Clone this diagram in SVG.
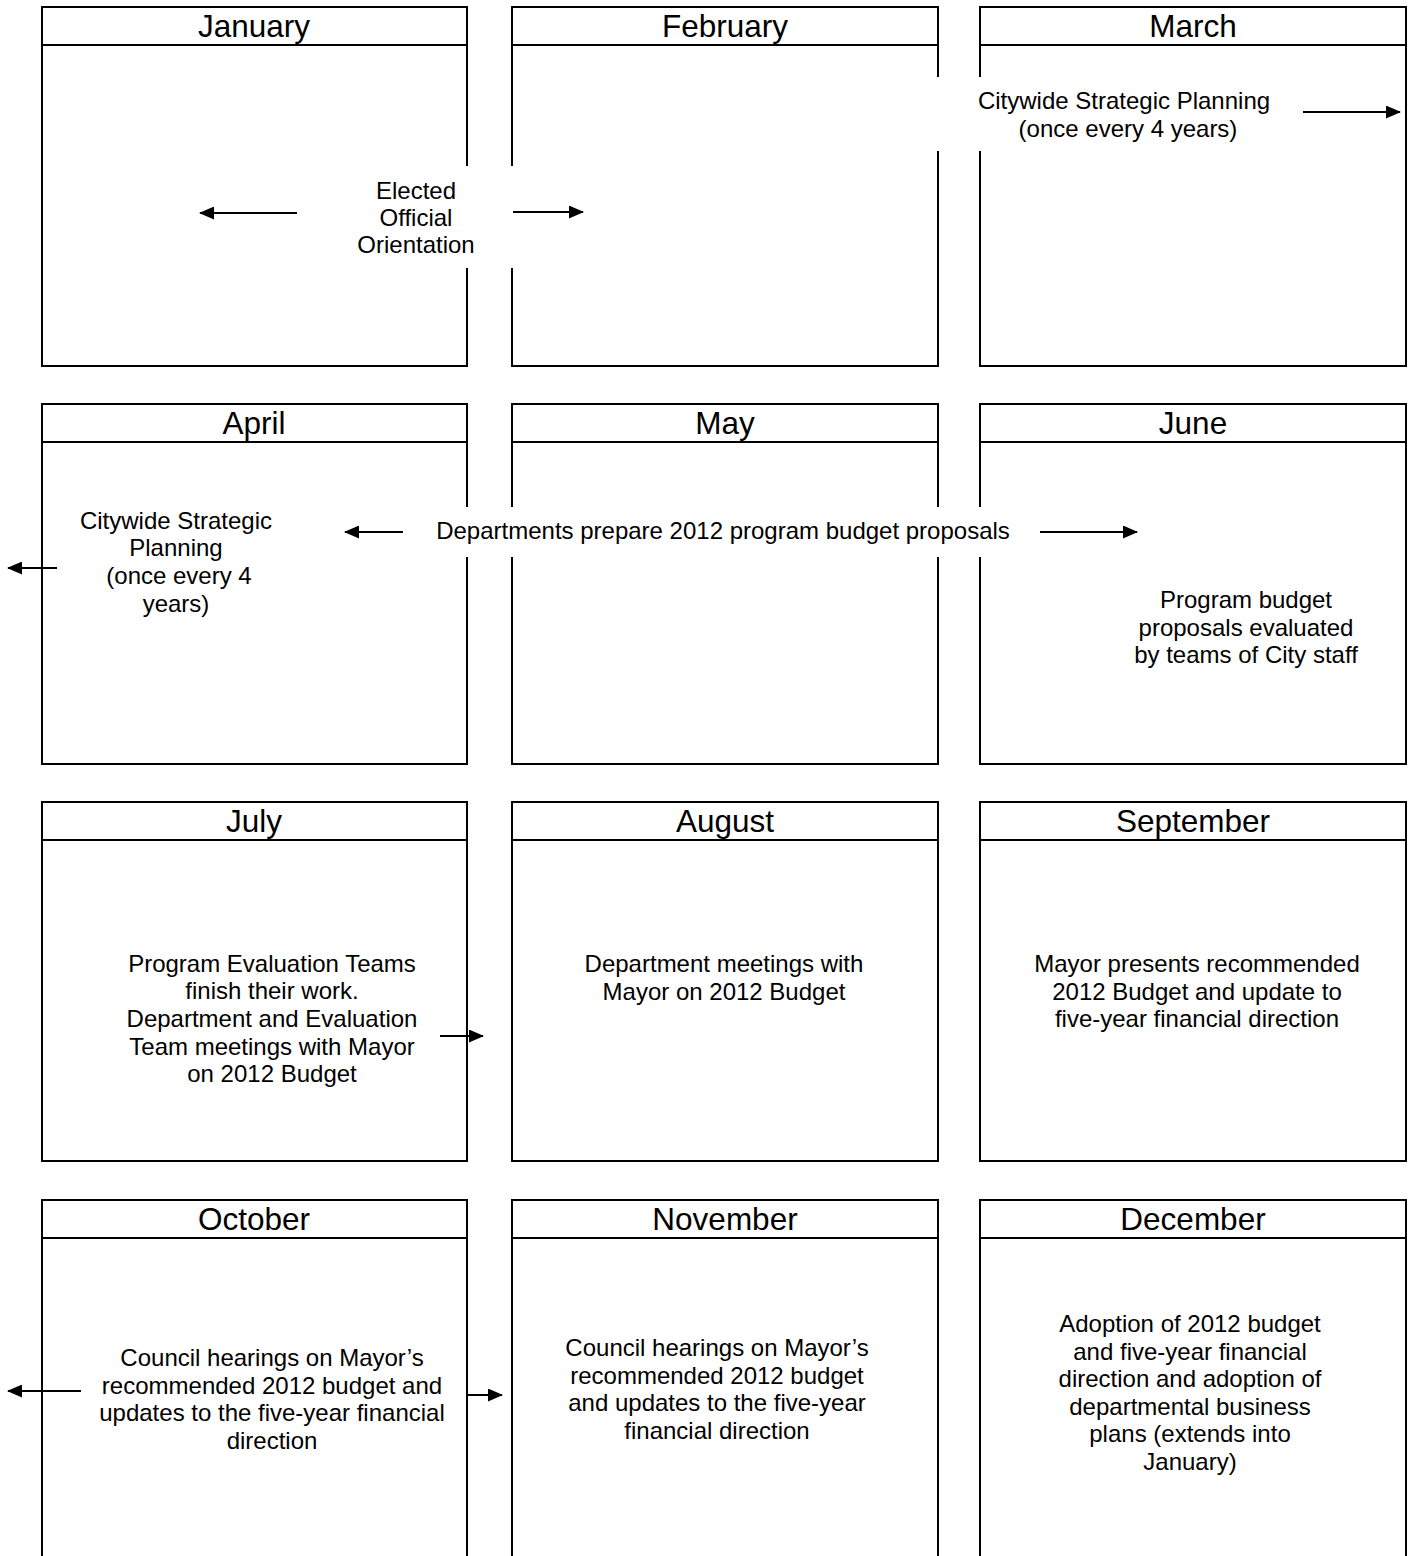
<svg xmlns="http://www.w3.org/2000/svg" width="1414" height="1556" viewBox="0 0 1414 1556">
<defs>
<marker id="ah" markerUnits="userSpaceOnUse" markerWidth="15" markerHeight="13" refX="14" refY="6.5" orient="auto">
<path d="M0,0 L15,6.5 L0,13 z" fill="#000"/>
</marker>
<style>
.box{fill:#fff;stroke:#000;stroke-width:2}
.hd{stroke:#000;stroke-width:2}
.mt{font-family:"Liberation Sans",Arial,sans-serif;font-size:31.5px;text-anchor:middle;fill:#000}
.t{font-family:"Liberation Sans",Arial,sans-serif;font-size:24px;text-anchor:middle;fill:#000}
.gap{fill:#fff;stroke:none}
.c{stroke:#000;stroke-width:2;fill:none;marker-end:url(#ah)}
</style>
</defs>
<rect width="1414" height="1556" fill="#fff"/>
<g id="january"><rect class="box" x="42" y="7" width="425" height="359"/><line class="hd" x1="42" y1="45" x2="467" y2="45"/><text class="mt" x="254" y="37">January</text></g>
<g id="february"><rect class="box" x="512" y="7" width="426" height="359"/><line class="hd" x1="512" y1="45" x2="938" y2="45"/><text class="mt" x="725" y="37">February</text></g>
<g id="march"><rect class="box" x="980" y="7" width="426" height="359"/><line class="hd" x1="980" y1="45" x2="1406" y2="45"/><text class="mt" x="1193" y="37">March</text></g>
<g id="april"><rect class="box" x="42" y="404" width="425" height="360"/><line class="hd" x1="42" y1="442" x2="467" y2="442"/><text class="mt" x="254" y="434">April</text></g>
<g id="may"><rect class="box" x="512" y="404" width="426" height="360"/><line class="hd" x1="512" y1="442" x2="938" y2="442"/><text class="mt" x="725" y="434">May</text></g>
<g id="june"><rect class="box" x="980" y="404" width="426" height="360"/><line class="hd" x1="980" y1="442" x2="1406" y2="442"/><text class="mt" x="1193" y="434">June</text></g>
<g id="july"><rect class="box" x="42" y="802" width="425" height="359"/><line class="hd" x1="42" y1="840" x2="467" y2="840"/><text class="mt" x="254" y="832">July</text></g>
<g id="august"><rect class="box" x="512" y="802" width="426" height="359"/><line class="hd" x1="512" y1="840" x2="938" y2="840"/><text class="mt" x="725" y="832">August</text></g>
<g id="september"><rect class="box" x="980" y="802" width="426" height="359"/><line class="hd" x1="980" y1="840" x2="1406" y2="840"/><text class="mt" x="1193" y="832">September</text></g>
<g id="october"><rect class="box" x="42" y="1200" width="425" height="370"/><line class="hd" x1="42" y1="1238" x2="467" y2="1238"/><text class="mt" x="254" y="1230">October</text></g>
<g id="november"><rect class="box" x="512" y="1200" width="426" height="370"/><line class="hd" x1="512" y1="1238" x2="938" y2="1238"/><text class="mt" x="725" y="1230">November</text></g>
<g id="december"><rect class="box" x="980" y="1200" width="426" height="370"/><line class="hd" x1="980" y1="1238" x2="1406" y2="1238"/><text class="mt" x="1193" y="1230">December</text></g>

<g id="gaps">
<rect class="gap" x="458" y="166" width="64" height="102"/>
<rect class="gap" x="928" y="77" width="64" height="74"/>
<rect class="gap" x="458" y="507" width="64" height="50"/>
<rect class="gap" x="928" y="507" width="64" height="50"/>
</g>

<g id="elected-official-orientation"><text class="t" x="416" y="199">Elected</text><text class="t" x="416" y="226">Official</text><text class="t" x="416" y="253">Orientation</text></g>
<g id="strategic-planning-march"><text class="t" x="1124" y="109">Citywide Strategic Planning</text><text class="t" x="1128" y="137">(once every 4 years)</text></g>
<g id="strategic-planning-april"><text class="t" x="176" y="529">Citywide Strategic</text><text class="t" x="176" y="556">Planning</text><text class="t" x="179" y="584">(once every 4</text><text class="t" x="176" y="612">years)</text></g>
<g id="departments-prepare"><text class="t" x="723" y="539">Departments prepare 2012 program budget proposals</text></g>
<g id="june-evaluated"><text class="t" x="1246" y="608">Program budget</text><text class="t" x="1246" y="636">proposals evaluated</text><text class="t" x="1246" y="663">by teams of City staff</text></g>
<g id="july-teams"><text class="t" x="272" y="972">Program Evaluation Teams</text><text class="t" x="272" y="999">finish their work.</text><text class="t" x="272" y="1027">Department and Evaluation</text><text class="t" x="272" y="1055">Team meetings with Mayor</text><text class="t" x="272" y="1082">on 2012 Budget</text></g>
<g id="august-meetings"><text class="t" x="724" y="972">Department meetings with</text><text class="t" x="724" y="1000">Mayor on 2012 Budget</text></g>
<g id="september-mayor"><text class="t" x="1197" y="972">Mayor presents recommended</text><text class="t" x="1197" y="1000">2012 Budget and update to</text><text class="t" x="1197" y="1027">five-year financial direction</text></g>
<g id="october-hearings"><text class="t" x="272" y="1366">Council hearings on Mayor’s</text><text class="t" x="272" y="1394">recommended 2012 budget and</text><text class="t" x="272" y="1421">updates to the five-year financial</text><text class="t" x="272" y="1449">direction</text></g>
<g id="november-hearings"><text class="t" x="717" y="1356">Council hearings on Mayor’s</text><text class="t" x="717" y="1384">recommended 2012 budget</text><text class="t" x="717" y="1411">and updates to the five-year</text><text class="t" x="717" y="1439">financial direction</text></g>
<g id="december-adoption"><text class="t" x="1190" y="1332">Adoption of 2012 budget</text><text class="t" x="1190" y="1360">and five-year financial</text><text class="t" x="1190" y="1387">direction and adoption of</text><text class="t" x="1190" y="1415">departmental business</text><text class="t" x="1190" y="1442">plans (extends into</text><text class="t" x="1190" y="1470">January)</text></g>

<g id="connectors">
<line class="c" x1="297" y1="213" x2="200" y2="213"/>
<line class="c" x1="513" y1="212" x2="583" y2="212"/>
<line class="c" x1="1303" y1="112" x2="1400" y2="112"/>
<line class="c" x1="57" y1="568" x2="8" y2="568"/>
<line class="c" x1="403" y1="532" x2="345" y2="532"/>
<line class="c" x1="1040" y1="532" x2="1137" y2="532"/>
<line class="c" x1="440" y1="1036" x2="483" y2="1036"/>
<line class="c" x1="81" y1="1391" x2="8" y2="1391"/>
<line class="c" x1="467" y1="1395" x2="502" y2="1395"/>
</g>
</svg>
